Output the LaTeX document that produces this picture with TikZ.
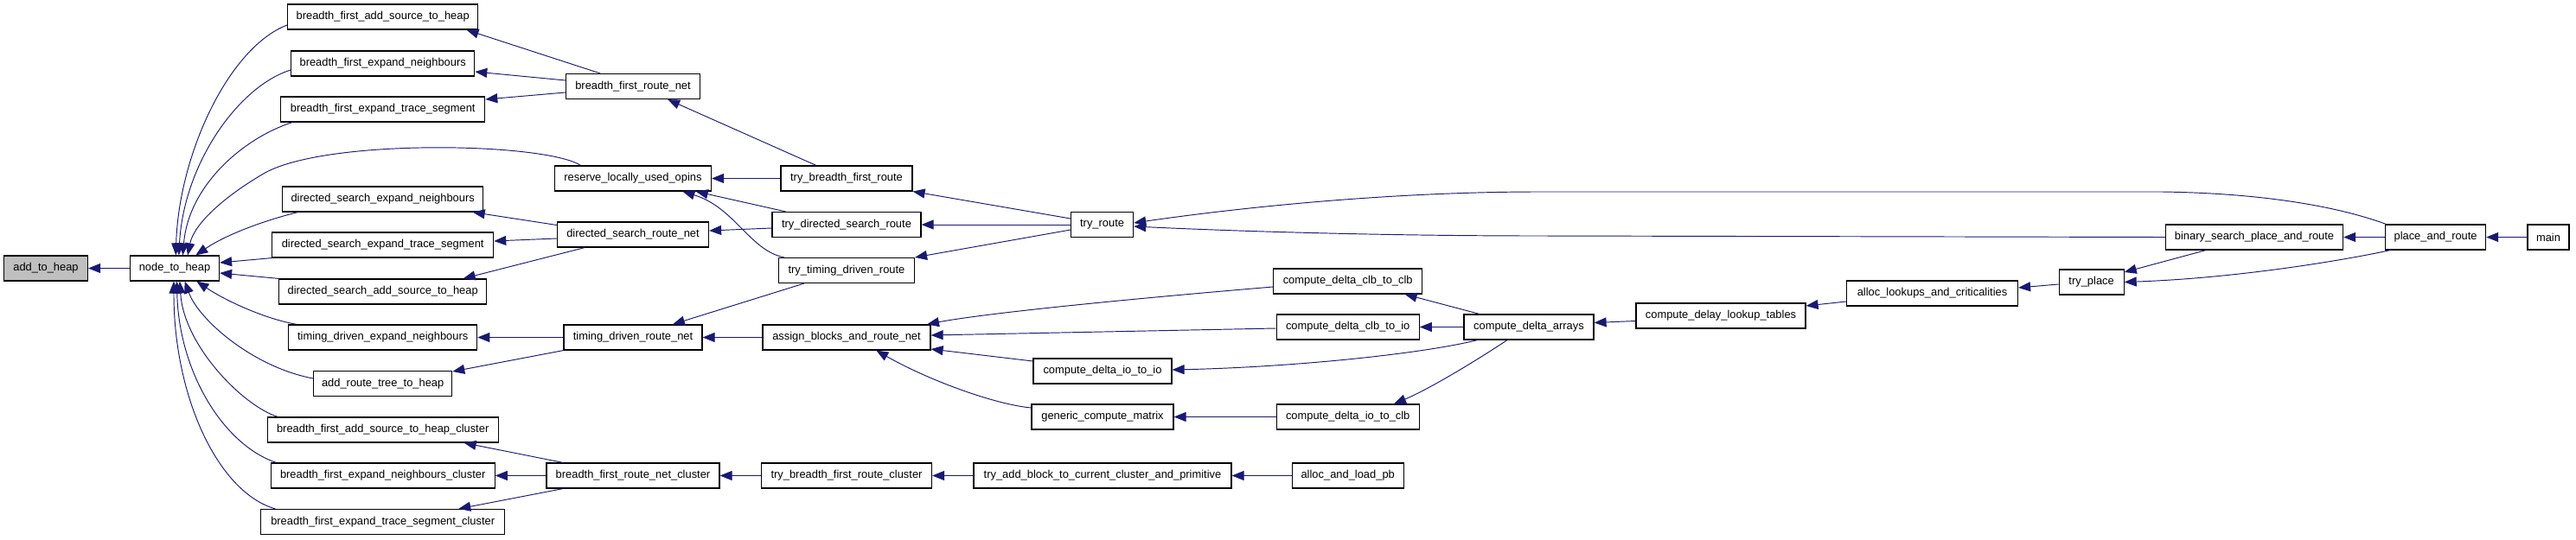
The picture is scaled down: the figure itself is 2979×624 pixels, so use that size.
\documentclass[tikz,border=0pt]{standalone}
\usepackage{fontspec}
\setmainfont{Liberation Sans}
\usetikzlibrary{calc,arrows.meta}
\definecolor{edgeblue}{HTML}{191970}
\definecolor{rootgrey}{HTML}{BFBFBF}
\tikzset{
  box/.style={draw=black, line width=1.2pt, fill=white, inner sep=0pt, minimum height=29pt, font=\fontsize{12.9}{14}\selectfont},
  edge/.style={draw=edgeblue, line width=0.95pt, {Triangle[length=14pt,width=11pt]}-}
}
\begin{document}
\begin{tikzpicture}[x=1pt,y=-1pt]
\useasboundingbox (0,0) rectangle (2979,624);
% column 0/1
\node[box, minimum width=97pt, fill=rootgrey] (a2h) at (53,310.5) {add\_to\_heap};
\node[box, minimum width=103pt] (n2h) at (202,310.5) {node\_to\_heap};
% column 2
\node[box, minimum width=220pt] (bfas) at (442.7,19.5) {breadth\_first\_add\_source\_to\_heap};
\node[box, minimum width=212pt] (bfen) at (442.7,73.5) {breadth\_first\_expand\_neighbours};
\node[box, minimum width=236pt] (bfet) at (442.7,126.5) {breadth\_first\_expand\_trace\_segment};
\node[box, minimum width=232pt] (dsen) at (442.7,230.5) {directed\_search\_expand\_neighbours};
\node[box, minimum width=256pt] (dset) at (442.7,283.5) {directed\_search\_expand\_trace\_segment};
\node[box, minimum width=240pt] (dsas) at (442.7,337.5) {directed\_search\_add\_source\_to\_heap};
\node[box, minimum width=218pt] (tden) at (442.7,390.5) {timing\_driven\_expand\_neighbours};
\node[box, minimum width=160pt] (art) at (442.7,444) {add\_route\_tree\_to\_heap};
\node[box, minimum width=267pt] (bfasc) at (442.7,497.5) {breadth\_first\_add\_source\_to\_heap\_cluster};
\node[box, minimum width=259pt] (bfenc) at (442.7,550.5) {breadth\_first\_expand\_neighbours\_cluster};
\node[box, minimum width=282pt] (bfetc) at (442.7,604) {breadth\_first\_expand\_trace\_segment\_cluster};
% column 3
\node[box, minimum width=155pt] (bfrn) at (732,100) {breadth\_first\_route\_net};
\node[box, minimum width=181pt] (rlo) at (732,206.5) {reserve\_locally\_used\_opins};
\node[box, minimum width=175pt] (dsrn) at (732,271.5) {directed\_search\_route\_net};
\node[box, minimum width=160pt] (tdrn) at (732,390.5) {timing\_driven\_route\_net};
\node[box, minimum width=200pt] (bfrnc) at (732,550.5) {breadth\_first\_route\_net\_cluster};
% column 4
\node[box, minimum width=152pt] (tbfr) at (979,206.5) {try\_breadth\_first\_route};
\node[box, minimum width=172pt] (tdsr) at (979,260) {try\_directed\_search\_route};
\node[box, minimum width=157pt] (ttdr) at (979,313) {try\_timing\_driven\_route};
\node[box, minimum width=194pt] (abrn) at (979,390.5) {assign\_blocks\_and\_route\_net};
\node[box, minimum width=197pt] (tbfrc) at (979,550.5) {try\_breadth\_first\_route\_cluster};
% column 5
\node[box, minimum width=72pt] (tr) at (1274.6,260) {try\_route};
\node[box, minimum width=160pt] (cdii) at (1275,429.5) {compute\_delta\_io\_to\_io};
\node[box, minimum width=164pt] (gcm) at (1275,482.5) {generic\_compute\_matrix};
\node[box, minimum width=298pt] (tab) at (1275,550.5) {try\_add\_block\_to\_current\_cluster\_and\_primitive};
% column 6
\node[box, minimum width=172pt] (cdcc) at (1558.7,325.5) {compute\_delta\_clb\_to\_clb};
\node[box, minimum width=165pt] (cdci) at (1558.7,378.5) {compute\_delta\_clb\_to\_io};
\node[box, minimum width=165pt] (cdic) at (1558.7,482.5) {compute\_delta\_io\_to\_clb};
\node[box, minimum width=129pt] (aalp) at (1558.7,550.5) {alloc\_and\_load\_pb};
% right part
\node[box, minimum width=150pt] (cda) at (1768,378.5) {compute\_delta\_arrays};
\node[box, minimum width=196pt] (cdlt) at (1990,365.5) {compute\_delay\_lookup\_tables};
\node[box, minimum width=198pt] (alc) at (2234.5,339.5) {alloc\_lookups\_and\_criticalities};
\node[box, minimum width=75pt] (tp) at (2418.6,326.5) {try\_place};
\node[box, minimum width=205pt] (bspr) at (2607,274.5) {binary\_search\_place\_and\_route};
\node[box, minimum width=116pt] (par) at (2816.6,274.5) {place\_and\_route};
\node[box, minimum width=48pt] (main) at (2947,274.5) {main};

% edges into add_to_heap / node_to_heap
\draw[edge] (a2h.east) -- (n2h.west);
\draw[edge] ($(n2h.north)+(1.3,0)$) .. controls (206.6,180) and (264,55) .. ($(bfas.west)+(0,9.5)$);
\draw[edge] ($(n2h.north)+(4.8,0)$) .. controls (212.4,190) and (275.5,100) .. ($(bfen.west)+(0,7.5)$);
\draw[edge] ($(n2h.north)+(9.4,0)$) .. controls (218,215) and (281,160) .. ($(bfet.south west)+(13.8,0)$);
\draw[edge] ($(n2h.north)+(15.1,0)$) .. controls (224,260) and (258,228) .. (306.5,200) .. controls (379,160) and (630,165) .. ($(rlo.north west)+(30.6,0)$);
\draw[edge] ($(n2h.north)+(24.3,0)$) .. controls (264,270) and (310,254) .. ($(dsen.south west)+(18.4,0)$);
\draw[edge] ($(n2h.east)+(0,-6.5)$) -- (dset.south west);
\draw[edge] ($(n2h.east)+(0,5.5)$) -- (dsas.north west);
\draw[edge] ($(n2h.south)+(25.4,0)$) .. controls (264,350) and (310,370) .. ($(tden.north west)+(10.3,0)$);
\draw[edge] ($(n2h.south)+(11.7,0)$) .. controls (229.6,370) and (292.7,425) .. ($(art.west)+(0,-6)$);
\draw[edge] ($(n2h.south)+(5.9,0)$) .. controls (212.4,400) and (281.3,470) .. ($(bfasc.north west)+(12.6,0)$);
\draw[edge] ($(n2h.south)+(2.5,0)$) .. controls (206.6,430) and (258.3,515) .. ($(bfenc.north west)+(6.9,0)$);
\draw[edge] ($(n2h.south)+(-1,0)$) .. controls (200.9,460) and (252.6,570) .. ($(bfetc.north west)+(17.2,0)$);

% column 2 <- column 3
\draw[edge] ($(bfas.south east)+(-13.8,0)$) -- ($(bfrn.north west)+(40.2,0)$);
\draw[edge] ($(bfen.east)+(0,9.5)$) -- ($(bfrn.west)+(0,-7)$);
\draw[edge] ($(bfet.east)+(0,-11.5)$) -- ($(bfrn.west)+(0,7)$);
\draw[edge] ($(dsen.south east)+(-12.6,0)$) -- ($(dsrn.west)+(0,-11)$);
\draw[edge] ($(dset.east)+(0,-4.5)$) -- ($(dsrn.west)+(0,4.5)$);
\draw[edge] ($(dsas.north east)+(-27.6,0)$) -- ($(dsrn.south west)+(32.1,0)$);
\draw[edge] (tden.east) -- (tdrn.west);
\draw[edge] ($(art.east)+(0,-14)$) -- (tdrn.south west);
\draw[edge] ($(bfasc.south east)+(-40.2,0)$) -- ($(bfrnc.north west)+(19.5,0)$);
\draw[edge] (bfenc.east) -- (bfrnc.west);
\draw[edge] ($(bfetc.north east)+(-54,0)$) -- ($(bfrnc.south west)+(19.5,0)$);

% column 3 <- column 4
\draw[edge] ($(bfrn.south east)+(-37.9,0)$) -- ($(tbfr.north west)+(41.3,0)$);
\draw[edge] (rlo.east) -- (tbfr.west);
\draw[edge] ($(rlo.south east)+(-18.4,0)$) -- ($(tdsr.north west)+(16.1,0)$);
\draw[edge] ($(rlo.south)+(57.4,0)$) .. controls (849.8,240) and (867,290) .. ($(ttdr.north west)+(6.9,0)$);
\draw[edge] ($(dsrn.east)+(0,-4.5)$) -- ($(tdsr.west)+(0,4)$);
\draw[edge] ($(tdrn.north)+(45.9,0)$) -- ($(ttdr.south west)+(29.8,0)$);
\draw[edge] (tdrn.east) -- (abrn.west);
\draw[edge] (bfrnc.east) -- (tbfrc.west);

% column 4 <- column 5/6
\draw[edge] (tbfr.south east) -- ($(tr.west)+(0,-7)$);
\draw[edge] (tdsr.east) -- (tr.west);
\draw[edge] (ttdr.north east) -- ($(tr.west)+(0,6)$);
\draw[edge] ($(abrn.north east)+(-4.6,0)$) .. controls (1110,368) and (1200,355) .. ($(cdcc.west)+(0,6.5)$);
\draw[edge] ($(abrn.east)+(0,-2.5)$) -- ($(cdci.west)+(0,1.5)$);
\draw[edge] ($(abrn.east)+(0,13.5)$) -- ($(cdii.west)+(0,-11.5)$);
\draw[edge] ($(abrn.south)+(34.3,0)$) .. controls (1073.6,440) and (1150,468) .. ($(gcm.west)+(0,-10.5)$);
\draw[edge] (tbfrc.east) -- (tab.west);
\draw[edge] (tab.east) -- (aalp.west);

% try_route callers
\draw[edge] ($(tr.east)+(0,-2)$) .. controls (1435.5,240) and (1607.7,222) .. (1780,222) -- (2500,222) .. controls (2640,224) and (2720,245) .. ($(par.north west)+(1.3,0)$);
\draw[edge] ($(tr.east)+(0,2)$) .. controls (1435.5,268) and (1607.7,273) .. (1780,273) -- (bspr.west);

% compute_delta_arrays
\draw[edge] ($(cdcc.south east)+(-20.7,0)$) -- ($(cda.north west)+(18.4,0)$);
\draw[edge] (cdci.east) -- (cda.west);
\draw[edge] ($(cdii.east)+(0,-1.5)$) .. controls (1493,425) and (1642,410) .. ($(cda.south west)+(16.1,0)$);
\draw[edge] ($(cdic.north east)+(-29.8,0)$) .. controls (1653.6,450) and (1711,415) .. ($(cda.south west)+(50.5,0)$);
\draw[edge] (gcm.east) -- (cdic.west);
\draw[edge] ($(cda.east)+(0,-5)$) -- ($(cdlt.west)+(0,6)$);
\draw[edge] ($(cdlt.east)+(0,-11.5)$) -- ($(alc.west)+(0,9.5)$);
\draw[edge] ($(alc.east)+(0,-6.5)$) -- ($(tp.west)+(0,2.5)$);
\draw[edge] ($(tp.east)+(0,-11.5)$) -- ($(bspr.south west)+(47,0)$);
\draw[edge] (tp.east) .. controls (2584.5,322) and (2706.8,302) .. ($(par.south west)+(6,0)$);
\draw[edge] (bspr.east) -- (par.west);
\draw[edge] (par.east) -- (main.west);
\end{tikzpicture}
\end{document}
